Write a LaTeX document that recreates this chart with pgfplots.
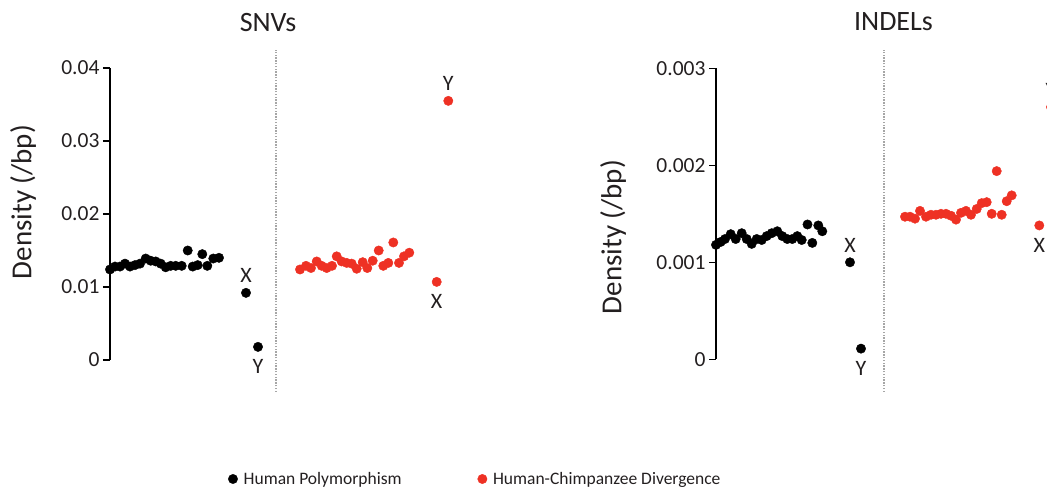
\documentclass[border=0pt]{standalone}
\usepackage{fontspec}
\setmainfont{Carlito}
\usepackage{pgfplots}
\pgfplotsset{compat=1.18}
\definecolor{divred}{RGB}{238,49,36}
\definecolor{txt}{RGB}{35,31,32}

\pgfplotsset{
  panel/.style={
    scale only axis, clip=false,
    axis x line=none, axis y line*=left,
    axis line style={line width=2pt, black},
    tick align=outside, major tick length=7pt,
    ytick style={line width=1.5pt, black},
    ymin=0,
    tick label style={font=\fontsize{21.5}{24}\selectfont, text=txt},
    yticklabel style={/pgf/number format/fixed, /pgf/number format/precision=3,
      /pgf/number format/assume math mode=true},
    scaled y ticks=false,
    ylabel style={font=\fontsize{29}{34}\selectfont, text=txt, anchor=center},
    title style={font=\fontsize{28}{32}\selectfont, text=txt, anchor=base},
  },
}
\tikzset{
  dots/.style={only marks, mark=*, mark size=4.7pt},
  lab/.style={anchor=base, inner sep=0pt, font=\fontsize{22}{26}\selectfont, text=txt},
  divider/.style={gray!70, line width=1.3pt, dash pattern=on 1.3pt off 1.5pt},
}

\begin{document}
\begin{tikzpicture}
\path[use as bounding box] (0,0) rectangle (1047pt,-489pt);
\clip (0,0) rectangle (1047pt,-489pt);

% ---- SNVs ----
\begin{axis}[panel,
    at={(110pt,-360pt)}, anchor=south west,
    width=360pt, height=292pt,
    xmin=110, xmax=470, ymax=0.04,
    ytick={0,0.01,0.02,0.03,0.04},
    ylabel={Density (/bp)},
    ylabel style={at={(axis description cs:-0.2417,0.541)}},
    title={SNVs},
    title style={at={(axis description cs:0.439,1.106)}},
    legend style={at={(axis description cs:0.328,-0.4075)}, anchor=west,
      draw=none, fill=none, inner sep=0pt, legend columns=2,
      font=\fontsize{17.5}{20}\selectfont, text=txt,
      nodes={inner xsep=6pt},
      /tikz/every even column/.append style={column sep=70pt}},
    legend image code/.code={\draw[#1] plot coordinates {(0pt,0pt)};},
  ]
\addplot[dots, black] table {
x y
110 0.0124
115 0.0128
120 0.0128
125 0.0132
130 0.0128
135 0.0130
140 0.0132
145.7 0.0139
150.7 0.0136
155.7 0.0135
160.7 0.0132
165.7 0.0127
170.7 0.0129
175.7 0.0129
181.7 0.0129
187.7 0.0150
192.7 0.0128
197.7 0.0130
202.3 0.0145
207.3 0.0129
213.3 0.0139
219 0.0140
246 0.0092
258 0.0018
};
\addplot[dots, divred] table {
x y
300 0.0124
306 0.0129
311 0.0126
316.7 0.0135
321.7 0.0129
326.7 0.0126
332 0.0129
336.7 0.0142
341.7 0.0135
346.7 0.0133
351.7 0.0132
356.7 0.0125
362.7 0.0134
367.3 0.0126
372.7 0.0136
378.7 0.0150
383.3 0.0129
388.3 0.0133
393.3 0.0161
399 0.0133
404 0.0142
409.3 0.0147
436.7 0.0107
448.3 0.0355
};
\legend{Human Polymorphism, Human-Chimpanzee Divergence}
\draw[divider] (axis cs:276,-0.00438) -- (axis cs:276,0.04247);
\node[lab, yshift=10pt] at (axis cs:246,0.0092) {X};
\node[lab, yshift=-27pt] at (axis cs:258,0.0018) {Y};
\node[lab, yshift=-27pt] at (axis cs:436.7,0.0107) {X};
\node[lab, yshift=10pt] at (axis cs:448.3,0.0355) {Y};
\end{axis}

% ---- INDELs ----
\begin{axis}[panel,
    at={(716pt,-359.3pt)}, anchor=south west,
    width=364pt, height=291pt,
    xmin=716, xmax=1080, ymax=0.003,
    ytick={0,0.001,0.002,0.003},
    ylabel={Density (/bp)},
    ylabel style={at={(axis description cs:-0.283,0.420)}},
    title={INDELs},
    title style={at={(axis description cs:0.4876,1.1076)}},
  ]
\addplot[dots, black] table {
x y
716 0.00118
720.7 0.00121
725 0.00124
730.7 0.00129
735.7 0.00124
741.7 0.00130
746.7 0.00124
751.7 0.00119
756.7 0.00124
761.7 0.00123
766.7 0.00127
771.7 0.00130
777.3 0.00132
782.3 0.00127
787.3 0.00124
792.3 0.00124
797.3 0.00127
801.7 0.00123
807.5 0.00139
812.3 0.00120
818.3 0.00138
822.3 0.00132
850 0.00100
861 0.00011
};
\addplot[dots, divred] table {
x y
905 0.00147
910 0.00147
915 0.00145
920 0.00153
926 0.00147
931 0.00149
936 0.00149
941 0.00150
946 0.00150
951 0.00148
956 0.00144
961 0.00151
966 0.00153
971 0.00149
976.7 0.00155
981.7 0.00161
986.7 0.00162
991.7 0.00150
996.7 0.00194
1001.7 0.00149
1006.7 0.00163
1011.7 0.00169
1039.3 0.00138
1051 0.00260
};
\draw[divider] (axis cs:884,-0.000337) -- (axis cs:884,0.003189);
\node[lab, yshift=10pt] at (axis cs:850,0.00100) {X};
\node[lab, yshift=-27pt] at (axis cs:861,0.00011) {Y};
\node[lab, yshift=-27pt] at (axis cs:1039.3,0.00138) {X};
\node[lab, yshift=10pt] at (axis cs:1051,0.00260) {Y};
\end{axis}
\end{tikzpicture}
\end{document}
